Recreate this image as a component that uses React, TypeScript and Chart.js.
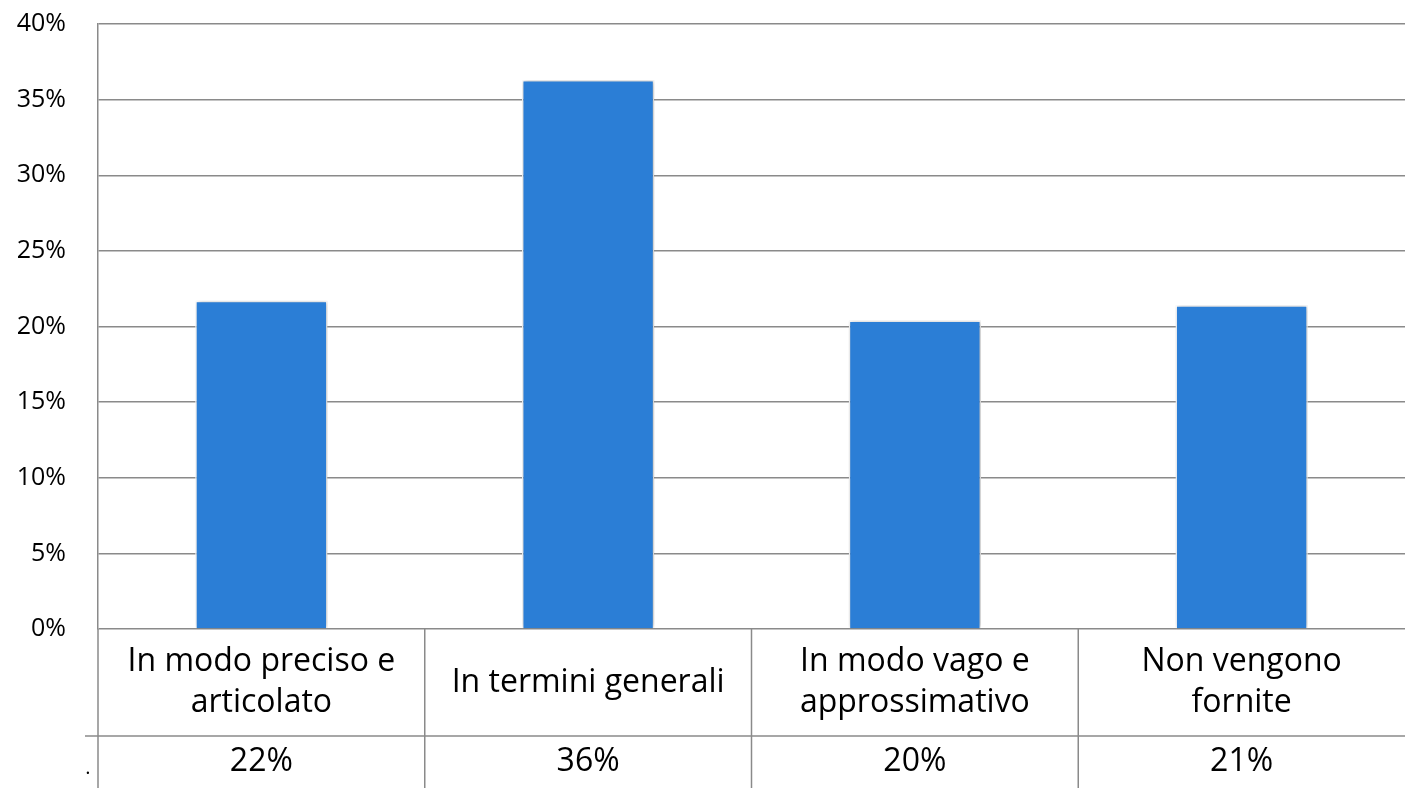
import React, { useEffect, useRef } from "react";
import { Chart, registerables } from "chart.js";

Chart.register(...registerables);

const categories: string[][] = [
  ["In modo preciso e", "articolato"],
  ["In termini generali"],
  ["In modo vago e", "approssimativo"],
  ["Non vengono", "fornite"],
];
const values: number[] = [0.217, 0.363, 0.204, 0.214];
const valueLabels: string[] = ["22%", "36%", "20%", "21%"];

const FONT = "'Open Sans', 'Liberation Sans', sans-serif";
const GRID = "#8a8a8a";
const W = 1405;
const H = 788;

const tablePlugin = {
  id: "dataTable",
  afterDraw(chart: any) {
    const ctx = chart.ctx as CanvasRenderingContext2D;
    const area = chart.chartArea;
    const x = chart.scales.x;
    const n = categories.length;
    const rowY = 736;
    ctx.save();
    ctx.strokeStyle = GRID;
    ctx.lineWidth = 1.5;
    ctx.beginPath();
    ctx.moveTo(area.left, area.bottom);
    ctx.lineTo(area.left, H);
    ctx.stroke();
    for (let i = 0; i < n - 1; i++) {
      const bx = (x.getPixelForValue(i) + x.getPixelForValue(i + 1)) / 2;
      ctx.beginPath();
      ctx.moveTo(bx, area.bottom);
      ctx.lineTo(bx, H);
      ctx.stroke();
    }
    ctx.beginPath();
    ctx.moveTo(85, rowY);
    ctx.lineTo(W, rowY);
    ctx.stroke();

    ctx.fillStyle = "#000";
    ctx.textAlign = "center";
    ctx.textBaseline = "middle";
    ctx.font = `32px ${FONT}`;
    const mid1 = (area.bottom + rowY) / 2;
    const lh = 41;
    for (let i = 0; i < n; i++) {
      const cx = x.getPixelForValue(i);
      const lines = categories[i];
      const start = mid1 - ((lines.length - 1) * lh) / 2;
      lines.forEach((l, j) => ctx.fillText(l, cx, start + j * lh));
      ctx.fillText(valueLabels[i], cx, (rowY + H) / 2);
    }
    ctx.font = `20px ${FONT}`;
    ctx.fillText(".", 88, 768);
    ctx.restore();
  },
};

const shadowPlugin = {
  id: "barShadow",
  beforeDatasetsDraw(chart: any) {
    const ctx = chart.ctx;
    ctx.save();
    ctx.shadowColor = "rgba(0,0,0,0.3)";
    ctx.shadowBlur = 5;
    ctx.shadowOffsetX = 1;
    ctx.shadowOffsetY = 0;
  },
  afterDatasetsDraw(chart: any) {
    chart.ctx.restore();
  },
};

export default function App() {
  const ref = useRef<HTMLCanvasElement | null>(null);
  useEffect(() => {
    if (!ref.current) return;
    const chart = new Chart(ref.current, {
      type: "bar",
      data: {
        labels: categories.map((c) => c.join(" ")),
        datasets: [
          {
            data: values,
            backgroundColor: "#2b7ed6",
            borderColor: "#ffffff",
            borderWidth: 1.5,
            barPercentage: 0.405,
            categoryPercentage: 1,
          },
        ],
      },
      options: {
        responsive: false,
        animation: false,
        layout: { padding: { top: 24, bottom: H - 629, left: 0, right: 0 } },
        plugins: { legend: { display: false }, tooltip: { enabled: false } },
        scales: {
          x: { display: false },
          y: {
            min: 0,
            max: 0.4,
            afterFit: (s: any) => {
              s.width = 98;
              s.paddingTop = 0;
              s.paddingBottom = 0;
            },
            border: { display: true, color: GRID, width: 1.5 },
            grid: { color: GRID, lineWidth: 1.5, drawTicks: false },
            ticks: {
              stepSize: 0.05,
              padding: 32,
              color: "#000",
              font: { family: FONT, size: 25 },
              callback: (v: any) => `${Math.round(Number(v) * 100)}%`,
            },
          },
        },
      },
      plugins: [shadowPlugin, tablePlugin],
    });
    return () => chart.destroy();
  }, []);
  return (
    <div style={{ position: "absolute", left: 0, top: 0, width: W, height: H, background: "#fff" }}>
      <canvas ref={ref} width={W} height={H} />
    </div>
  );
}
